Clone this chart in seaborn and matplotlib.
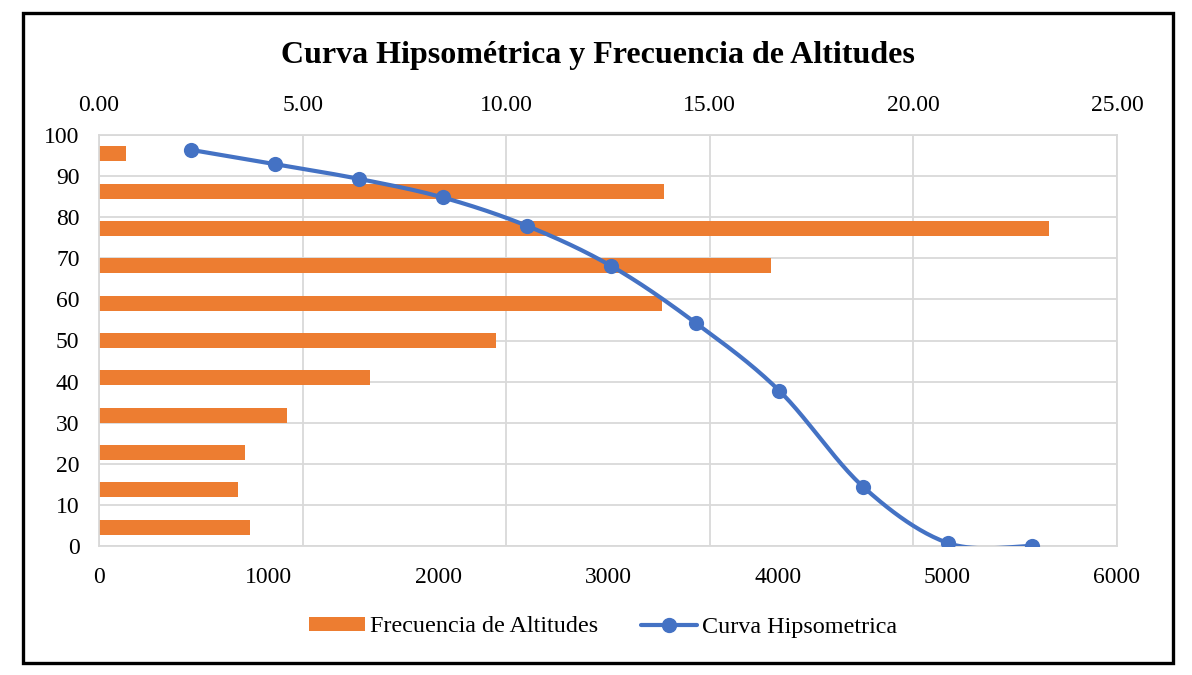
import numpy as np
import pandas as pd
import matplotlib
matplotlib.use("Agg")
import matplotlib.pyplot as plt
from matplotlib.patches import Patch, Rectangle
from matplotlib.lines import Line2D
import seaborn as sns

# Hypsometric curve: altitude (m) vs. percentage of area above that altitude
altitudes = [540, 1040, 1535, 2027, 2522, 3020, 3516, 4009, 4504, 5005, 5500]
area_above_pct = [96.4, 92.9, 89.3, 84.8, 77.9, 68.1, 54.3, 37.8, 14.4, 0.7, 0.0]

# Altitude frequency per class (%), listed from the highest class to the lowest
freq_pct = [0.66, 13.88, 23.32, 16.51, 13.83, 9.75, 6.66, 4.62, 3.59, 3.42, 3.71]

title = "Curva Hipsométrica y Frecuencia de Altitudes"
bar_label = "Frecuencia de Altitudes"
line_label = "Curva Hipsometrica"

ORANGE = "#ED7D31"
BLUE = "#4472C4"
GRID = "#D9D9D9"

sns.set_theme(style="white")
plt.rcParams["font.family"] = ["Liberation Serif", "DejaVu Serif"]
plt.rcParams["text.color"] = "black"


def smooth_curve(x, y, steps=40):
    """Catmull-Rom style Bezier smoothing through the given points."""
    p = np.column_stack([x, y]).astype(float)
    ext = np.vstack([p[0], p, p[-1]])
    out = []
    t = np.linspace(0, 1, steps)[:, None]
    for i in range(1, len(ext) - 2):
        p0, p1, p2, p3 = ext[i - 1], ext[i], ext[i + 1], ext[i + 2]
        c1 = p1 + (p2 - p0) / 6.0
        c2 = p2 - (p3 - p1) / 6.0
        seg = ((1 - t) ** 3) * p1 + 3 * ((1 - t) ** 2) * t * c1 + 3 * (1 - t) * t ** 2 * c2 + t ** 3 * p2
        out.append(seg if i == 1 else seg[1:])
    s = np.vstack(out)
    return s[:, 0], s[:, 1]


W, H = 1192, 675
TICK_FS = 17
fig = plt.figure(figsize=(W / 100, H / 100), dpi=100)
ax = fig.add_axes([99 / W, 1 - 546 / H, (1117 - 99) / W, (546 - 135) / H])

# Frequency bars, one per altitude class, evenly spread along the 0-100 axis
n = len(freq_pct)
class_centers = 100 - (np.arange(n) + 0.5) * 100 / n
bars = pd.DataFrame({"freq": freq_pct, "pos": class_centers})
sns.barplot(data=bars, x="freq", y="pos", orient="y", native_scale=True,
            color=ORANGE, saturation=1, width=0.4, ax=ax, zorder=2)
for p in ax.patches:
    p.set_edgecolor("none")

# Hypsometric curve on its own altitude axis (drawn above the bars)
ax2 = ax.twiny()
sx, sy = smooth_curve(altitudes, area_above_pct)
sns.lineplot(x=sx, y=sy, sort=False, estimator=None, color=BLUE,
             linewidth=3.0, ax=ax2, zorder=3)
sns.scatterplot(x=altitudes, y=area_above_pct, color=BLUE, s=120,
                linewidth=0, ax=ax2, zorder=4)

# Frequency axis on top
ax.set_xlim(0, 25)
ax.set_ylim(0, 100)
ax.set_xticks(np.arange(0, 26, 5))
ax.set_xticklabels([f"{v:.2f}" for v in np.arange(0, 26, 5)])
ax.set_yticks(np.arange(0, 101, 10))
ax.xaxis.tick_top()
ax.set_xlabel("")
ax.set_ylabel("")
ax.set_axisbelow(True)
ax.grid(True, color=GRID, linewidth=1.3)
for sp in ax.spines.values():
    sp.set_color(GRID)
    sp.set_linewidth(1.3)
ax.tick_params(axis="x", length=0, pad=14, labelsize=TICK_FS, colors="black")
ax.tick_params(axis="y", length=0, pad=14, labelsize=TICK_FS, colors="black")

# Altitude axis on the bottom
ax2.set_xlim(0, 6000)
ax2.set_ylim(0, 100)
ax2.set_xticks(np.arange(0, 6001, 1000))
ax2.xaxis.tick_bottom()
ax2.set_xlabel("")
ax2.set_ylabel("")
ax2.tick_params(axis="x", length=0, pad=15, labelsize=TICK_FS, colors="black")
ax2.grid(False)
for sp in ax2.spines.values():
    sp.set_visible(False)

fig.text(598 / W, 1 - 55 / H, title, ha="center", va="center",
         fontsize=23, fontweight="bold", color="black")

handles = [
    Patch(facecolor=ORANGE, edgecolor="none"),
    Line2D([0], [0], color=BLUE, linewidth=3.0, marker="o", markersize=10),
]
leg = fig.legend(handles, [bar_label, line_label], loc="center",
                 bbox_to_anchor=(603 / W, 1 - 627 / H), ncol=2, frameon=False,
                 fontsize=17.4, handlelength=2.3, handleheight=0.55,
                 handletextpad=0.2, columnspacing=1.8)
for t in leg.get_texts():
    t.set_color("black")

# Outer frame around the whole chart
fig.add_artist(Rectangle((23 / W, 1 - 663 / H), (1173 - 23) / W, (663 - 13) / H,
                         transform=fig.transFigure, fill=False,
                         edgecolor="black", linewidth=2.4))

fig.savefig("out.png", dpi=100, facecolor="white")
